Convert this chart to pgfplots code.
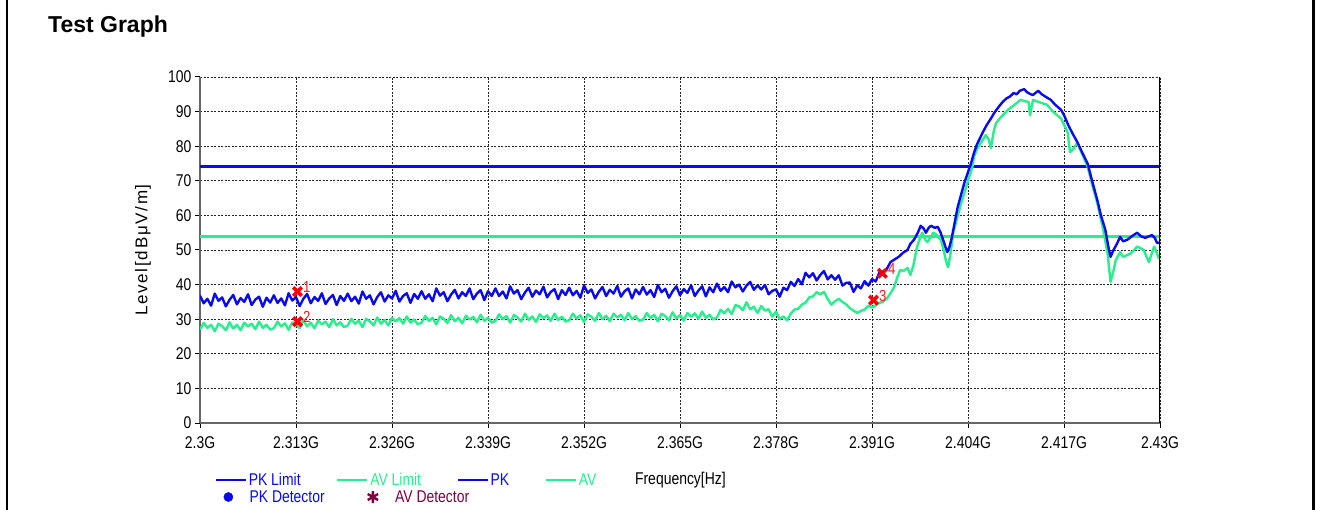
\documentclass[border=0pt]{standalone}
\usepackage{fontspec}
\setmainfont{Liberation Sans}
\newfontfamily\narrowfont[FakeStretch=0.82]{Liberation Sans}
\newfontfamily\ylabfont[LetterSpace=10]{Liberation Sans}
\usepackage{pgfplots}
\pgfplotsset{compat=1.18}
\definecolor{pkblue}{RGB}{10,10,240}
\definecolor{avgreen}{RGB}{40,238,140}
\definecolor{avdet}{RGB}{128,0,64}
\newcommand{\nf}{\narrowfont\fontsize{17bp}{20bp}\selectfont}
\newcommand{\mf}{\narrowfont\fontsize{16bp}{18bp}\selectfont}
\pgfplotsset{
  mylegend/.style={legend image code/.code={\draw[mark repeat=2,mark phase=2,##1] plot coordinates {(0bp,0bp) (15bp,0bp) (30bp,0bp)};}},
  mymark/.style={legend image code/.code={\path (0bp,0bp) (34bp,0bp); \draw[##1] plot[only marks] coordinates {(15bp,0bp)};}}
}
\begin{document}
\begin{tikzpicture}
\path[use as bounding box] (0,0) rectangle (1322bp,510bp);
\draw[black, line width=2bp] (7bp,0) -- (7bp,510bp);
\draw[black, line width=2.7bp] (1313.3bp,0) -- (1313.3bp,510bp);
\node[anchor=base west, font=\bfseries\fontsize{23bp}{26bp}\selectfont, inner sep=0pt] at (48bp,477bp) {Test Graph};
\begin{axis}[
  scale only axis, width=960bp, height=346bp,
  at={(200bp,87bp)}, anchor=south west,
  xmin=2300, xmax=2430, ymin=0, ymax=100,
  xtick={2300,2313,2326,2339,2352,2365,2378,2391,2404,2417,2430},
  xticklabels={2.3G,2.313G,2.326G,2.339G,2.352G,2.365G,2.378G,2.391G,2.404G,2.417G,2.43G},
  ytick={0,10,...,100},
  /pgf/number format/assume math mode=true,
  axis x line*=bottom, axis y line*=left,
  axis line style={-, black!60, line width=1.5bp},
  tick align=outside, major tick length=5bp,
  tick style={black, line width=1bp},
  grid=major,
  major grid style={black!85, dash pattern=on 2bp off 1.5bp, line width=0.8bp},
  xticklabel style={font=\nf, yshift=-5bp},
  yticklabel style={font=\nf},
  ylabel={Level[dBμV/m]},
  ylabel style={font=\ylabfont\fontsize{17bp}{20bp}\selectfont, at={(axis description cs:-0.0594,0.5)}, anchor=center},
  xlabel={Frequency[Hz]},
  xlabel style={font=\nf, at={(axis description cs:0.453,-0.1647)}, anchor=west, inner sep=0pt},
  legend columns=4,
  legend cell align=left,
  legend style={draw=none, fill=none, at={(axis description cs:0.0156,-0.1647)}, anchor=west,
    font=\nf, inner sep=0pt, /tikz/every even column/.append style={column sep=34bp}},
  mylegend,
  every legend image post/.style={line width=1.6bp},
]
\addplot[pkblue, line width=3bp] coordinates {(2300,74)(2430,74)};
\addlegendentry{\textcolor{pkblue}{PK Limit}}
\addplot[avgreen, line width=3bp] coordinates {(2300,54)(2430,54)};
\addlegendentry{\textcolor{avgreen}{AV Limit}}
\addlegendimage{pkblue, line width=1.6bp}
\addlegendentry{\textcolor{pkblue}{PK}}
\addlegendimage{avgreen, line width=1.6bp}
\addlegendentry{\textcolor{avgreen}{AV}}
% AV trace
\addplot[avgreen, line width=2.4bp, line join=round, forget plot] coordinates {
(2300,27.0)(2300.5,28.9)(2301,27.5)(2301.5,28.4)(2302,26.5)(2302.5,28.7)(2303,28.0)(2303.5,26.8)(2304,29.1)(2304.5,27.3)
(2305,28.4)(2305.5,26.8)(2306,29.0)(2306.5,27.9)(2307,28.7)(2307.5,27.1)(2308,29.3)(2308.5,27.5)(2309,28.4)(2309.5,27.0)
(2310,27.4)(2310.5,29.3)(2311,27.9)(2311.5,28.8)(2312,26.9)(2312.5,29.1)(2313,28.6)(2313.5,27.4)(2314,29.7)(2314.5,27.9)
(2315,29.0)(2315.5,27.4)(2316,29.6)(2316.5,28.5)(2317,29.3)(2317.5,27.7)(2318,30.0)(2318.5,28.2)(2319,29.1)(2319.5,27.7)
(2320,28.2)(2320.5,30.1)(2321,28.7)(2321.5,29.6)(2322,27.7)(2322.5,30.1)(2323,29.4)(2323.5,28.2)(2324,30.5)(2324.5,28.7)
(2325,29.8)(2325.5,28.2)(2326,30.4)(2326.5,29.3)(2327,30.3)(2327.5,28.7)(2328,30.8)(2328.5,29.0)(2329,29.9)(2329.5,28.5)
(2330,29.0)(2330.5,30.9)(2331,29.5)(2331.5,30.4)(2332,28.5)(2332.5,30.8)(2333,30.1)(2333.5,28.9)(2334,31.2)(2334.5,29.4)
(2335,30.4)(2335.5,28.8)(2336,31.0)(2336.5,29.9)(2337,30.7)(2337.5,29.1)(2338,31.3)(2338.5,29.5)(2339,30.4)(2339.5,29.0)
(2340,29.5)(2340.5,31.4)(2341,30.0)(2341.5,30.9)(2342,29.0)(2342.5,31.2)(2343,30.5)(2343.5,29.3)(2344,31.6)(2344.5,29.8)
(2345,30.8)(2345.5,29.2)(2346,31.4)(2346.5,30.3)(2347,31.1)(2347.5,29.5)(2348,31.6)(2348.5,29.8)(2349,30.7)(2349.5,29.3)
(2350,29.7)(2350.5,31.6)(2351,30.2)(2351.5,31.1)(2352,29.2)(2352.5,31.4)(2353,30.7)(2353.5,29.5)(2354,31.8)(2354.5,30.0)
(2355,31.0)(2355.5,29.4)(2356,31.6)(2356.5,30.5)(2357,31.3)(2357.5,29.7)(2358,31.8)(2358.5,30.0)(2359,30.9)(2359.5,29.5)
(2360,29.9)(2360.5,31.8)(2361,30.4)(2361.5,31.3)(2362,29.4)(2362.5,31.6)(2363,30.9)(2363.5,29.7)(2364,32.0)(2364.5,30.2)
(2365,31.2)(2365.5,29.6)(2366,31.8)(2366.5,30.7)(2367,31.7)(2367.5,30.1)(2368,32.2)(2368.5,30.4)(2369,31.3)(2369.5,29.9)
(2370,30.5)(2370.5,32.7)(2371,31.7)(2371.5,33.0)(2372,31.5)(2372.5,34.1)(2373,33.7)(2373.5,32.6)(2374,34.9)(2374.5,32.9)
(2375,33.6)(2375.5,31.8)(2376,33.8)(2376.5,32.5)(2377,32.9)(2377.5,30.7)(2378,32.2)(2378.5,30.0)(2379,30.8)(2379.5,29.7)
(2380,31.6)(2380.5,32.8)(2381,33.0)(2381.5,34.2)(2382,34.8)(2382.5,36.3)(2383,36.6)(2383.5,37.8)(2384,37.2)(2384.5,37.9)
(2385,35.8)(2385.5,34.2)(2386,35.2)(2386.5,35.9)(2387,35.0)(2387.5,34.3)(2388,33.2)(2388.5,32.5)(2389,31.8)(2389.5,32.4)
(2390,32.8)(2390.5,33.9)(2391,33.4)(2391.5,34.0)(2392,34.7)(2392.5,35.1)(2393,35.9)(2393.5,37.5)(2394,39.3)(2394.4,42.0)
(2394.8,44.2)(2395.3,44.0)(2395.8,44.8)(2396.2,42.8)(2396.6,45.5)(2397.1,51.0)(2397.6,54.0)(2397.8,55.0)(2398.2,53.0)(2398.5,52.3)
(2398.9,53.5)(2399.3,55.0)(2399.7,54.5)(2400.3,53.0)(2400.7,50.0)(2401,47.0)(2401.3,45.0)(2401.6,48.5)(2402,55.0)(2402.5,59.0)
(2403,63.0)(2403.5,66.5)(2404,70.0)(2404.6,74.0)(2404.8,77.0)(2405.3,79.5)(2405.9,81.5)(2406.4,83.2)(2406.8,82.0)(2407.1,79.5)
(2407.5,84.5)(2407.8,86.7)(2408.5,88.5)(2409.4,90.5)(2410.2,91.8)(2411.1,93.4)(2411.7,93.0)(2412.2,92.8)(2412.4,89.0)(2412.8,93.4)
(2413.5,92.8)(2414.7,92.0)(2415.5,90.0)(2416.6,88.0)(2417.5,84.0)(2417.8,78.3)(2418.2,79.0)(2418.8,81.0)(2419.5,77.5)(2420.2,74.0)
(2420.8,69.0)(2421.5,63.6)(2422.2,57.0)(2422.9,49.0)(2423.3,40.8)(2423.7,44.0)(2424,47.0)(2424.6,49.4)(2425,48.0)(2425.5,48.5)
(2426,49.0)(2426.5,50.0)(2426.9,51.0)(2427.4,50.5)(2427.8,50.0)(2428.1,48.5)(2428.5,46.5)(2428.8,48.5)(2429.2,51.0)(2429.5,49.5)
(2429.8,47.7)(2430,47.5)
};
% PK trace
\addplot[pkblue, line width=2.4bp, line join=round, forget plot] coordinates {
(2300,36.8)(2300.5,34.6)(2301,35.9)(2301.5,33.9)(2302,37.4)(2302.5,35.3)(2303,36.3)(2303.5,33.7)(2304,35.6)(2304.5,37.0)
(2305,34.3)(2305.5,36.1)(2306,35.0)(2306.5,37.2)(2307,34.1)(2307.5,35.7)(2308,36.5)(2308.5,33.6)(2309,36.2)(2309.5,34.8)
(2310,36.9)(2310.5,34.7)(2311,36.0)(2311.5,34.0)(2312,37.5)(2312.5,35.4)(2313,36.4)(2313.5,33.8)(2314,35.9)(2314.5,37.3)
(2315,34.6)(2315.5,36.4)(2316,35.3)(2316.5,37.5)(2317,34.4)(2317.5,36.0)(2318,37.0)(2318.5,34.1)(2319,36.7)(2319.5,35.3)
(2320,37.4)(2320.5,35.2)(2321,36.5)(2321.5,34.5)(2322,38.0)(2322.5,35.9)(2323,36.9)(2323.5,34.3)(2324,36.4)(2324.5,37.8)
(2325,35.1)(2325.5,36.9)(2326,36.0)(2326.5,38.2)(2327,35.1)(2327.5,36.7)(2328,37.5)(2328.5,34.7)(2329,37.3)(2329.5,35.9)
(2330,38.1)(2330.5,35.9)(2331,37.2)(2331.5,35.2)(2332,38.9)(2332.5,36.8)(2333,37.8)(2333.5,35.2)(2334,37.1)(2334.5,38.5)
(2335,36.0)(2335.5,37.8)(2336,36.7)(2336.5,38.9)(2337,35.8)(2337.5,37.4)(2338,38.4)(2338.5,35.5)(2339,38.1)(2339.5,36.7)
(2340,38.9)(2340.5,36.7)(2341,38.0)(2341.5,36.0)(2342,39.5)(2342.5,37.4)(2343,38.4)(2343.5,35.8)(2344,37.7)(2344.5,39.1)
(2345,36.5)(2345.5,38.3)(2346,37.2)(2346.5,39.4)(2347,36.3)(2347.5,37.9)(2348,38.7)(2348.5,35.8)(2349,38.4)(2349.5,37.0)
(2350,39.1)(2350.5,36.9)(2351,38.2)(2351.5,36.2)(2352,39.7)(2352.5,37.6)(2353,38.6)(2353.5,36.0)(2354,37.9)(2354.5,39.3)
(2355,36.7)(2355.5,38.5)(2356,37.4)(2356.5,39.6)(2357,36.5)(2357.5,38.1)(2358,38.9)(2358.5,36.0)(2359,38.6)(2359.5,37.2)
(2360,39.3)(2360.5,37.1)(2361,38.4)(2361.5,36.4)(2362,39.9)(2362.5,37.8)(2363,38.8)(2363.5,36.2)(2364,38.1)(2364.5,39.5)
(2365,36.9)(2365.5,38.7)(2366,37.6)(2366.5,39.8)(2367,36.7)(2367.5,38.3)(2368,39.5)(2368.5,36.6)(2369,39.2)(2369.5,37.8)
(2370,40.3)(2370.5,38.2)(2371,39.3)(2371.5,37.8)(2372,40.9)(2372.5,39.2)(2373,40.0)(2373.5,38.0)(2374,39.7)(2374.5,40.8)
(2375,38.5)(2375.5,39.8)(2376,38.6)(2376.5,39.9)(2377,37.2)(2377.5,38.2)(2378,38.6)(2378.5,36.5)(2379,39.1)(2379.5,38.4)
(2380,40.8)(2380.5,39.6)(2381,41.6)(2381.5,40.1)(2382,43.4)(2382.5,42.1)(2383,43.3)(2383.5,41.2)(2384,42.8)(2384.5,43.9)
(2385,41.5)(2385.5,42.7)(2386,41.4)(2386.5,42.7)(2387,39.7)(2387.5,40.5)(2388,40.6)(2388.5,37.9)(2389,39.8)(2389.5,38.9)
(2390,41.0)(2390.5,39.7)(2391,41.6)(2391.5,40.9)(2392,43.5)(2392.5,43.8)(2393,44.5)(2393.5,46.5)(2394,47.2)(2394.6,48.0)
(2395.2,49.2)(2395.8,50.0)(2396.2,51.8)(2396.7,53.0)(2397.2,55.0)(2397.6,57.0)(2398,56.2)(2398.3,55.0)(2398.7,56.5)(2399,57.0)
(2399.5,56.4)(2399.9,56.7)(2400.3,55.0)(2400.7,52.5)(2401,50.5)(2401.2,49.4)(2401.5,51.0)(2401.8,53.5)(2402.2,58.0)(2402.6,62.4)
(2403,65.5)(2403.5,69.4)(2404,72.5)(2404.4,75.0)(2404.8,78.0)(2405.2,80.5)(2405.5,81.8)(2406,84.0)(2406.5,86.0)(2407.1,88.0)
(2407.6,89.8)(2408.2,91.5)(2408.7,92.8)(2409.2,93.8)(2409.7,94.4)(2410.2,95.4)(2410.6,95.0)(2411,96.0)(2411.6,96.5)(2412,95.6)
(2412.5,95.0)(2412.8,94.8)(2413.2,95.5)(2413.5,96.0)(2414,95.0)(2414.5,94.3)(2415.2,93.4)(2415.8,92.0)(2416.6,90.5)(2417,89.0)
(2417.6,86.0)(2418.2,83.5)(2418.8,81.2)(2419.5,78.0)(2420.2,75.0)(2420.8,70.0)(2421.5,64.5)(2422,60.0)(2422.6,55.8)(2423,51.0)
(2423.3,48.0)(2423.7,50.0)(2424.1,51.5)(2424.6,53.8)(2425,52.5)(2425.6,53.0)(2426.2,54.0)(2426.9,55.0)(2427.4,54.0)(2428,53.5)
(2428.3,53.8)(2428.9,54.3)(2429.3,53.5)(2429.6,52.0)(2430,52.2)
};
% detector markers
\addplot[only marks, mark=x, mark size=6bp, red, line width=3.5bp, forget plot,
  nodes near coords, point meta=explicit symbolic,
  nodes near coords style={anchor=south west, font=\mf, red!90, inner sep=1bp, xshift=3bp, yshift=-4bp}]
  coordinates {(2313.2,38)[1] (2313.2,29.3)[2] (2391.2,35.5)[3] (2392.4,43.3)[4]};
\draw[black, line width=2bp] (rel axis cs:1,0) -- (rel axis cs:1,1);
\end{axis}
\begin{axis}[
  scale only axis, width=960bp, height=346bp,
  at={(200bp,87bp)}, anchor=south west,
  xmin=0, xmax=1, ymin=0, ymax=1, hide axis,
  legend columns=2,
  legend cell align=left,
  legend style={draw=none, fill=none, at={(axis description cs:0.0135,-0.2139)}, anchor=west,
    font=\nf, inner sep=0pt, /tikz/every even column/.append style={column sep=30bp}},
]
\addlegendimage{mark=*, pkblue, mark size=4.6bp, mymark}
\addlegendentry{\textcolor{pkblue}{PK Detector}}
\addlegendimage{mark=asterisk, avdet, mark size=6bp, line width=2.4bp, mymark}
\addlegendentry{\textcolor{avdet}{AV Detector}}
\end{axis}
\end{tikzpicture}
\end{document}
